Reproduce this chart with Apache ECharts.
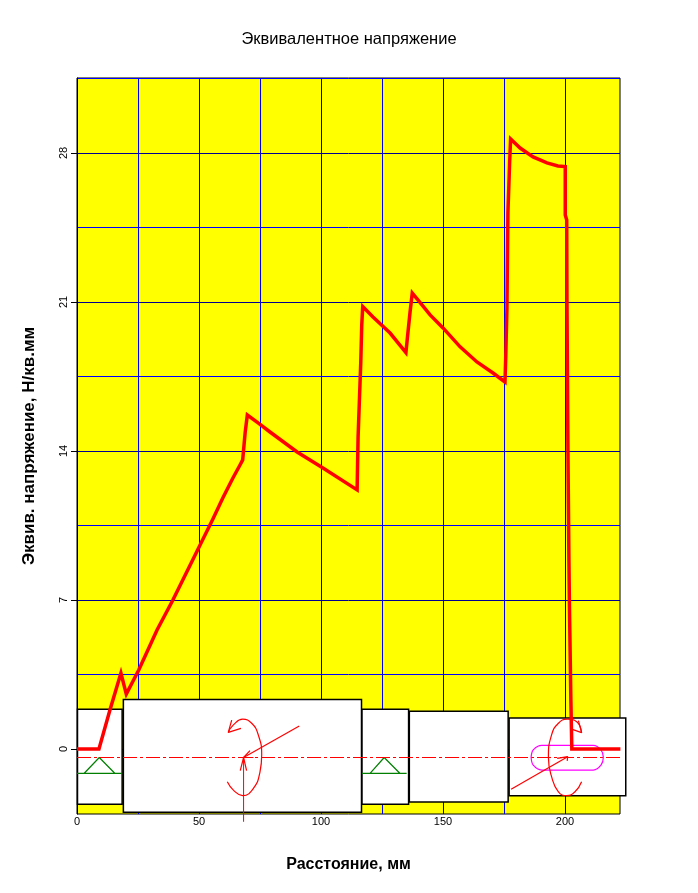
<!DOCTYPE html>
<html>
<head>
<meta charset="utf-8">
<title>Эквивалентное напряжение</title>
<script src="https://cdn.jsdelivr.net/npm/echarts@6/dist/echarts.min.js"></script>
<style>
	html, body { margin: 0; padding: 0; background: #fff; }
	#main { width: 698px; height: 893px; }
</style>
</head>
<body>
<div id="main"></div>
<script>
// stress curve, [distance mm, stress]
const stressCurve = [
	[0, 0], [9, 0], [13.5, 1.83], [18, 3.57], [20.2, 2.58], [25.3, 3.71], [32.8, 5.59], [39.3, 7],
	[55.7, 10.8], [59.8, 11.8], [63.9, 12.73], [66.8, 13.34], [67.9, 13.58], [68.9, 14.85], [69.8, 15.69],
	[74.2, 15.32], [79.1, 14.89], [90.2, 13.95], [100.8, 13.2], [114.8, 12.17], [115.2, 14.66],
	[116.3, 18.18], [116.7, 19.92], [117.1, 20.78], [121.3, 20.29], [128.3, 19.54], [134.8, 18.62],
	[135.4, 19.31], [136.5, 20.53], [137.4, 21.42], [139.8, 21.09], [144.7, 20.39], [150, 19.78],
	[157, 18.89], [163.9, 18.18], [170.5, 17.66], [175.4, 17.24], [175.7, 18.37], [176.2, 20.72],
	[176.6, 25.18], [177.3, 27.53], [177.7, 28.66], [181.6, 28.23], [186.9, 27.81], [192.6, 27.53],
	[197.1, 27.39], [200.1, 27.36], [200.1, 25.09], [200.7, 24.85], [200.8, 21.09], [201.2, 14.05],
	[201.6, 8.88], [201.8, 6.92], [202.4, 6.86], [202.4, 2.3], [202.8, 2.3], [202.8, 0], [222.7, 0],
];

// axes
const xMajor = [0, 50, 100, 150, 200];
const xMinor = [25, 75, 125, 175];
const yMajor = [0, 7, 14, 21, 28];
const yMinor = [3.5, 10.5, 17.5, 24.5, 31.5];

// shaft sections, [x0, x1, top, bottom]
const shaftSections = [
	[0.2, 18.5, 1.87, -2.6],
	[19, 116.6, 2.33, -2.97],
	[116.8, 135.9, 1.87, -2.6],
	[136.2, 176.7, 1.77, -2.49],
	[177.1, 224.9, 1.45, -2.2],
];

const centerLine = [[0, -0.4], [224.6, -0.4]];

// bearing symbols
const bearingLeft = [[0, -1.15], [2.87, -1.15], [9.14, -0.4], [15.57, -1.15], [18.5, -1.15], [2.87, -1.15]];
const bearingRight = [[116.8, -1.15], [120.1, -1.15], [125.9, -0.4], [132.4, -1.15], [135.1, -1.15], [120.1, -1.15]];

// loads on the shaft
const radialForce = [[68.27, -3.42], [68.27, -0.4]];
const radialHead = [[66.9, -1.02], [68.27, -0.4], [69.5, -1.02]];
const axialForce = [[91.1, 1.08], [68.27, -0.4]];
const axialHead = [[70.9, -0.08], [68.27, -0.4], [72.3, -0.4]];
const momentLeft = [
	[62, 0.78], [64.1, 1.13], [67.9, 1.4], [71.6, 1.21], [74.3, 0.66], [75.7, -0.28],
	[75, -1.07], [72.3, -1.85], [67.9, -2.19], [64.1, -1.93], [61.6, -1.54],
];
const momentLeftHead = [[63.4, 1.36], [62, 0.78], [67.2, 0.97]];
const momentRight = [
	[206.8, -1.54], [204.1, -2.01], [200.7, -2.19], [197.3, -2.01], [194.5, -1.3], [193.2, -0.39],
	[194.5, 0.66], [197.3, 1.21], [200.9, 1.4], [204.8, 1.28], [206.8, 0.77],
];
const momentRightHead = [[205.5, 1.33], [206.8, 0.77], [202.7, 0.93]];
const endForce = [[177.9, -1.89], [201.1, -0.36]];
const endHead = [[196.8, -0.44], [201.1, -0.36], [200.9, -0.56]];

// key on the last section
const keySlot = [
	[186.1, -0.39], [186.9, -0.05], [190.5, 0.17], [211.6, 0.17], [214.8, -0.05], [215.7, -0.39],
	[214.8, -0.75], [211.6, -0.99], [190.5, -0.99], [186.9, -0.75], [186.1, -0.39],
];

const RED = '#ff0000';
const GREEN = '#007f00';
const MAGENTA = '#ff00ff';
const MAJOR_GRID = '#000090';
const MINOR_GRID = '#0000ff';

const xMax = 222.54;
const yMin = -3.054;
const yMax = 31.52;

function sketchLine(data, color, extra, smooth) {
	return {
		type: 'line',
		data,
		color,
		z: 4,
		clip: false,
		silent: true,
		smooth: smooth || false,
		showSymbol: false,
		symbol: 'none',
		lineStyle: Object.assign({ color, width: 1.2 }, extra),
	};
}

const chart = echarts.init(document.getElementById('main'), null, { renderer: 'canvas' });

chart.setOption({
	animation: false,
	backgroundColor: '#fff',
	textStyle: { fontFamily: 'Liberation Sans' },
	title: {
		text: 'Эквивалентное напряжение',
		left: 'center',
		top: 25.5,
		textStyle: { fontFamily: 'Liberation Sans', fontSize: 16.5, fontWeight: 'normal', color: '#000' },
	},
	grid: {
		left: 77,
		top: 78,
		width: 543,
		height: 736,
		show: true,
		backgroundColor: '#ffff00',
		borderColor: '#000',
		borderWidth: 1,
	},
	xAxis: [
		{
			type: 'value',
			min: 0,
			max: xMax,
			name: 'Расстояние, мм',
			nameLocation: 'middle',
			nameGap: 43,
			nameTextStyle: { fontFamily: 'Liberation Sans', fontSize: 16, fontWeight: 'bold', color: '#000' },
			axisLine: { show: true, lineStyle: { color: '#000', width: 1 } },
			axisTick: { show: true, customValues: xMajor, length: 2, lineStyle: { color: MAJOR_GRID } },
			axisLabel: { customValues: xMajor, margin: 2, fontSize: 11, color: '#000', formatter: v => String(v) },
			splitLine: { show: true, lineStyle: { color: MAJOR_GRID, width: 1 } },
		},
		{
			type: 'value',
			min: 0,
			max: xMax,
			position: 'bottom',
			axisLine: { show: false },
			axisTick: { show: true, customValues: xMinor, length: 2, lineStyle: { color: MINOR_GRID } },
			axisLabel: { show: false },
			splitLine: { show: true, lineStyle: { color: MINOR_GRID, width: 1 } },
		},
	],
	yAxis: [
		{
			type: 'value',
			min: yMin,
			max: yMax,
			position: 'left',
			name: 'Эквив. напряжение, Н/кв.мм',
			nameLocation: 'middle',
			nameGap: 39,
			nameTextStyle: { fontFamily: 'Liberation Sans', fontSize: 17, fontWeight: 'bold', color: '#000' },
			axisLine: { show: true, lineStyle: { color: '#000', width: 1 } },
			axisTick: { show: true, customValues: yMajor, length: 6, lineStyle: { color: '#000' } },
			axisLabel: { customValues: yMajor, rotate: 90, margin: 8, fontSize: 11, color: '#000', formatter: v => String(v) },
			splitLine: { show: true, lineStyle: { color: MAJOR_GRID, width: 1 } },
		},
		{
			type: 'value',
			min: yMin,
			max: yMax,
			position: 'left',
			axisLine: { show: false },
			axisTick: { show: false, customValues: yMinor },
			axisLabel: { show: false },
			splitLine: { show: true, lineStyle: { color: MINOR_GRID, width: 1 } },
		},
	],
	series: [
		{
			type: 'custom',
			z: 3,
			clip: false,
			silent: true,
			data: shaftSections,
			renderItem: (params, api) => {
				const p0 = api.coord([api.value(0), api.value(2)]);
				const p1 = api.coord([api.value(1), api.value(3)]);
				return {
					type: 'rect',
					shape: { x: p0[0], y: p0[1], width: p1[0] - p0[0], height: p1[1] - p0[1] },
					style: { fill: '#fff', stroke: '#000', lineWidth: 1.5 },
				};
			},
			encode: { x: [0, 1], y: [2, 3] },
		},
		sketchLine(bearingLeft, GREEN),
		sketchLine(bearingRight, GREEN),
		sketchLine(centerLine, RED, { type: [14, 3, 3, 3], width: 1 }),
		sketchLine(keySlot, MAGENTA, null, 0.3),
		sketchLine(radialForce, RED, { width: 1 }),
		sketchLine(radialHead, RED),
		sketchLine(axialForce, RED),
		sketchLine(axialHead, RED),
		sketchLine(momentLeft, RED, null, 0.5),
		sketchLine(momentLeftHead, RED),
		sketchLine(momentRight, RED, null, 0.5),
		sketchLine(momentRightHead, RED),
		sketchLine(endForce, RED),
		sketchLine(endHead, RED),
		{
			type: 'line',
			data: stressCurve,
			z: 5,
			clip: false,
			silent: true,
			showSymbol: false,
			symbol: 'none',
			color: RED,
			lineStyle: { color: RED, width: 3.5, join: 'miter' },
		},
	],
});
</script>
</body>
</html>
